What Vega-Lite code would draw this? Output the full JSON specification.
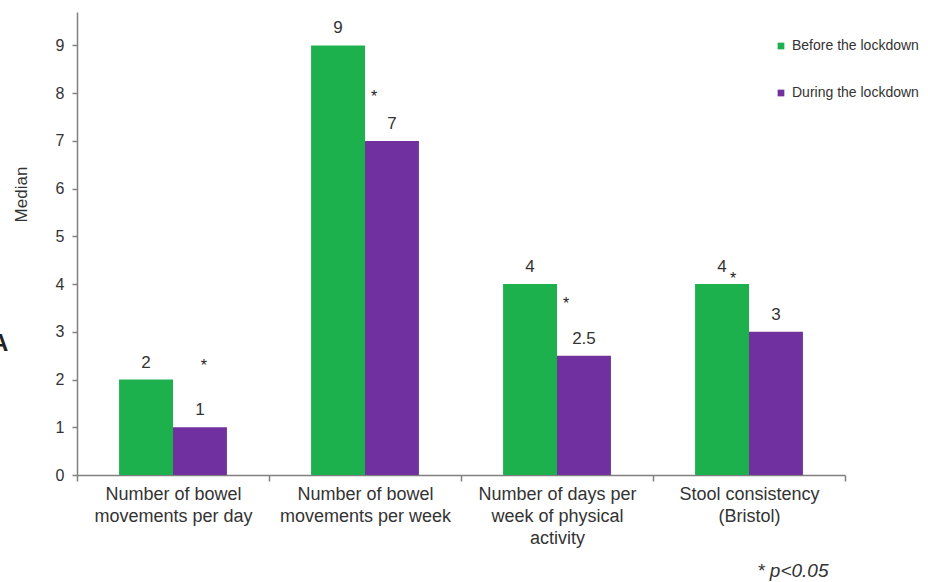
{
  "$schema": "https://vega.github.io/schema/vega-lite/v6.json",
  "width": 768,
  "height": 463,
  "autosize": {"type": "none"},
  "padding": {"left": 77, "top": 12, "right": 83, "bottom": 107},
  "background": "white",
  "config": {
    "view": {"stroke": null},
    "font": "Liberation Sans"
  },
  "title": {
    "text": "A",
    "orient": "left",
    "anchor": "middle",
    "angle": 0,
    "fontSize": 24,
    "fontWeight": "bold",
    "color": "#222222",
    "dy": 88,
    "offset": -5
  },
  "datasets": {
    "medians": [
      {"category": "Number of bowel movements per day", "period": "Before the lockdown", "median": 2},
      {"category": "Number of bowel movements per day", "period": "During the lockdown", "median": 1},
      {"category": "Number of bowel movements per week", "period": "Before the lockdown", "median": 9},
      {"category": "Number of bowel movements per week", "period": "During the lockdown", "median": 7},
      {"category": "Number of days per week of physical activity", "period": "Before the lockdown", "median": 4},
      {"category": "Number of days per week of physical activity", "period": "During the lockdown", "median": 2.5},
      {"category": "Stool consistency (Bristol)", "period": "Before the lockdown", "median": 4},
      {"category": "Stool consistency (Bristol)", "period": "During the lockdown", "median": 3}
    ],
    "significance": [
      {"category": "Number of bowel movements per day", "near": "During the lockdown", "level": 2.37},
      {"category": "Number of bowel movements per week", "near": "Both", "level": 8.0},
      {"category": "Number of days per week of physical activity", "near": "Both", "level": 3.67},
      {"category": "Stool consistency (Bristol)", "near": "Before the lockdown", "level": 4.2}
    ]
  },
  "encoding": {
    "x": {
      "field": "category",
      "type": "nominal",
      "sort": null,
      "scale": {"paddingInner": 0, "paddingOuter": 0},
      "axis": {
        "labelAngle": 0,
        "labelFontSize": 18,
        "labelLineHeight": 22,
        "labelBaseline": "top",
        "labelPadding": 4,
        "labelLimit": 300,
        "labelColor": "#333333",
        "labelExpr": "datum.value === 'Number of bowel movements per day' ? ['Number of bowel', 'movements per day'] : datum.value === 'Number of bowel movements per week' ? ['Number of bowel', 'movements per week'] : datum.value === 'Number of days per week of physical activity' ? ['Number of days per', 'week of physical', 'activity'] : datum.value === 'Stool consistency (Bristol)' ? ['Stool consistency', '(Bristol)'] : ''",
        "tickBand": "extent",
        "tickSize": 6,
        "tickColor": "#808080",
        "tickWidth": 1.5,
        "domainColor": "#808080",
        "domainWidth": 1.5,
        "title": "* p<0.05",
        "titleFontSize": 19,
        "titleFontStyle": "italic",
        "titleFontWeight": "normal",
        "titleColor": "#333333",
        "titleX": 751,
        "titleY": 95,
        "titleAlign": "right",
        "titleBaseline": "middle"
      }
    }
  },
  "layer": [
    {
      "data": {"name": "medians"},
      "mark": {"type": "bar"},
      "encoding": {
        "xOffset": {
          "field": "period",
          "type": "nominal",
          "scale": {
            "domain": ["Before the lockdown", "During the lockdown"],
            "paddingInner": 0,
            "paddingOuter": 0.78
          }
        },
        "y": {
          "field": "median",
          "type": "quantitative",
          "scale": {"domain": [0, 9.7], "nice": false},
          "axis": {
            "values": [0, 1, 2, 3, 4, 5, 6, 7, 8, 9],
            "grid": false,
            "tickSize": 5,
            "tickColor": "#808080",
            "tickWidth": 1.5,
            "domainColor": "#808080",
            "domainWidth": 1.5,
            "labelFontSize": 16,
            "labelColor": "#333333",
            "labelPadding": 8,
            "title": "Median",
            "titleFontSize": 17,
            "titleFontWeight": "normal",
            "titleColor": "#333333",
            "titleAngle": -90,
            "titleX": -56,
            "titleY": 182,
            "titleAlign": "center",
            "titleBaseline": "middle"
          }
        },
        "color": {
          "field": "period",
          "type": "nominal",
          "scale": {
            "domain": ["Before the lockdown", "During the lockdown"],
            "range": ["#1DB14E", "#7030A0"]
          },
          "legend": {
            "orient": "none",
            "legendX": 697,
            "legendY": 27,
            "title": null,
            "symbolType": "square",
            "symbolSize": 45,
            "symbolStrokeWidth": 0,
            "labelFontSize": 14,
            "labelColor": "#333333",
            "labelOffset": 4,
            "labelLimit": 300,
            "rowPadding": 33
          }
        }
      }
    },
    {
      "data": {"name": "medians"},
      "mark": {"type": "text", "baseline": "alphabetic", "dy": -12, "fontSize": 17, "color": "#333333"},
      "encoding": {
        "xOffset": {"field": "period", "type": "nominal"},
        "y": {"field": "median", "type": "quantitative"},
        "text": {"field": "median", "type": "quantitative"}
      }
    },
    {
      "data": {"name": "significance"},
      "transform": [{"filter": "datum.near === 'During the lockdown'"}],
      "mark": {"type": "text", "baseline": "middle", "dx": 4, "dy": 4, "fontSize": 16, "color": "#222222"},
      "encoding": {
        "xOffset": {"field": "near", "type": "nominal"},
        "y": {"field": "level", "type": "quantitative"},
        "text": {"value": "*"}
      }
    },
    {
      "data": {"name": "significance"},
      "transform": [{"filter": "datum.near === 'Before the lockdown'"}],
      "mark": {"type": "text", "baseline": "middle", "dx": 11, "dy": 4, "fontSize": 16, "color": "#222222"},
      "encoding": {
        "xOffset": {"field": "near", "type": "nominal"},
        "y": {"field": "level", "type": "quantitative"},
        "text": {"value": "*"}
      }
    },
    {
      "data": {"name": "significance"},
      "transform": [{"filter": "datum.near === 'Both'"}],
      "mark": {"type": "text", "baseline": "middle", "dx": 9, "dy": 4, "fontSize": 16, "color": "#222222"},
      "encoding": {
        "y": {"field": "level", "type": "quantitative"},
        "text": {"value": "*"}
      }
    }
  ]
}
